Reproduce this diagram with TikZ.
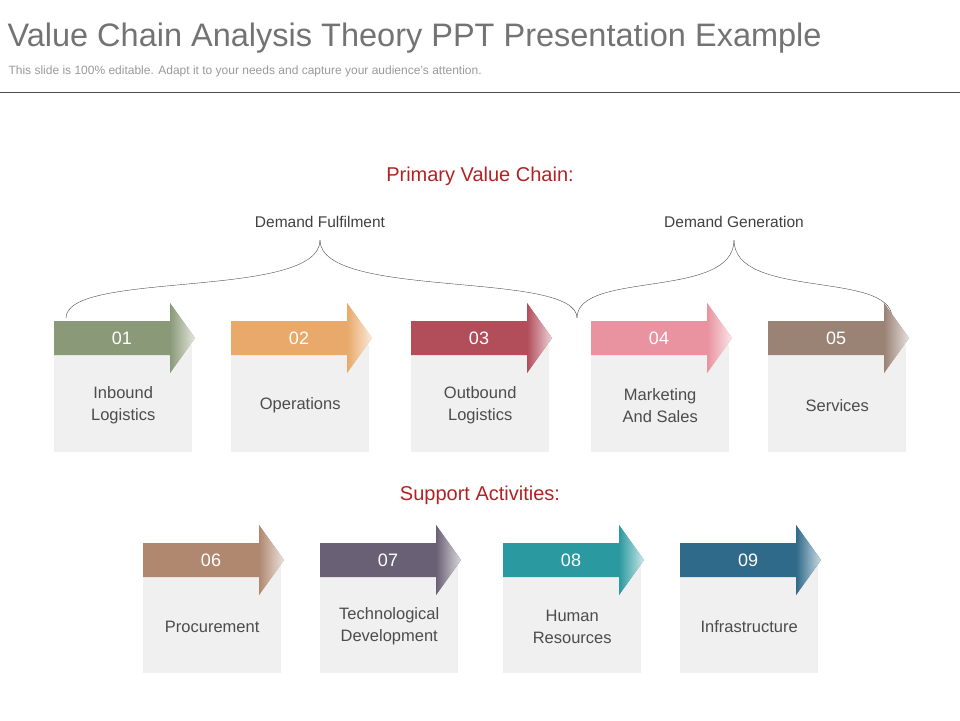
\documentclass[tikz,border=0pt]{standalone}
\usepackage{fontspec}
\setmainfont{Liberation Sans}
\definecolor{cA}{HTML}{8A9A78}
\definecolor{cB}{HTML}{E8A96A}
\definecolor{cC}{HTML}{B24D5A}
\definecolor{cD}{HTML}{E8939F}
\definecolor{cE}{HTML}{9A8275}
\definecolor{cF}{HTML}{B08870}
\definecolor{cG}{HTML}{6A6075}
\definecolor{cH}{HTML}{2A9AA0}
\definecolor{cI}{HTML}{2F6A8A}
\definecolor{titlered}{HTML}{B22222}
\begin{document}
\begin{tikzpicture}[x=1pt,y=-1pt]
	\tikzset{box/.style = {fill=black!6, minimum width=138pt, minimum height=107pt, inner sep=0pt, font=\fontsize{16.5}{22}\selectfont, text=black!70, align=center, anchor=north west},
		num/.style = {text=white, font=\fontsize{18}{20}\selectfont},
		head/.style = {text=titlered, font=\fontsize{20}{24}\selectfont},
		sub/.style = {text=black!75, font=\fontsize{15.5}{18}\selectfont}}

	\useasboundingbox (0,0) rectangle (960,720);

	\node[anchor=west, text=black!55, font=\fontsize{32.5}{38}\selectfont] (title) at (4,38) {Value Chain Analysis Theory PPT Presentation Example};
	\node[anchor=west, text=black!40, font=\fontsize{12}{14}\selectfont] (subtitle) at (5,71) {This slide is 100\% editable. Adapt it to your needs and capture your audience's attention.};
	\draw[black!70] (0,92) -- (960,92);

	\node[head] (primary) at (480,176) {Primary Value Chain:};
	\node[head] (support) at (480,495) {Support Activities:};
	\node[sub] (fulfil) at (320,222) {Demand Fulfilment};
	\node[sub] (gener) at (734,222) {Demand Generation};

	% braces
	\draw[black!70] (66,318) .. controls (66,270) and (320,300) .. (320,240);
	\draw[black!70] (320,240) .. controls (320,300) and (577,270) .. (577,318);
	\draw[black!70] (577,318) .. controls (577,270) and (734,300) .. (734,240);
	\draw[black!70] (734,240) .. controls (734,300) and (892,270) .. (892,318);

	% primary row
	\foreach \x/\n/\t/\c in {54/01/{Inbound\\Logistics}/cA, 231/02/Operations/cB, 411/03/{Outbound\\Logistics}/cC, 591/04/{Marketing\\And Sales}/cD, 768/05/Services/cE}{
		\node[box] (box\n) at (\x,345) {\rule{0pt}{20pt}\\[-16pt]\t};
		\fill[\c] (\x,321) -- (\x+116,321) -- (\x+116,303) -- (\x+141,338) -- (\x+116,373) -- (\x+116,355) -- (\x,355) -- cycle;
		\shade[left color=\c, right color=\c!25] (\x+116,303) -- (\x+141,338) -- (\x+116,373) -- cycle;
		\node[num] (num\n) at (\x+68,338) {\n};
	}

	% support row
	\foreach \x/\n/\t/\c in {143/06/Procurement/cF, 320/07/{Technological\\Development}/cG, 503/08/{Human\\Resources}/cH, 680/09/Infrastructure/cI}{
		\node[box, minimum height=108pt] (box\n) at (\x,565) {\rule{0pt}{20pt}\\[-16pt]\t};
		\fill[\c] (\x,543) -- (\x+116,543) -- (\x+116,525) -- (\x+141,560) -- (\x+116,595) -- (\x+116,577) -- (\x,577) -- cycle;
		\shade[left color=\c, right color=\c!25] (\x+116,525) -- (\x+141,560) -- (\x+116,595) -- cycle;
		\node[num] (num\n) at (\x+68,560) {\n};
	}

\end{tikzpicture}
\end{document}
